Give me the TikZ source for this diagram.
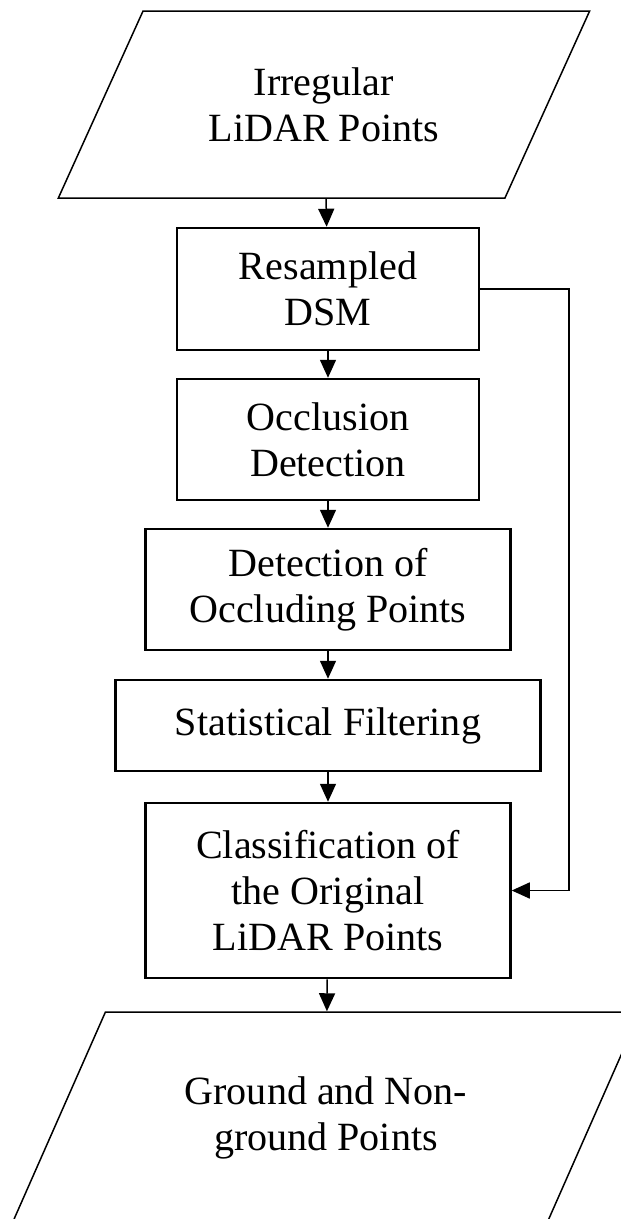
\documentclass[tikz,border=0pt]{standalone}
\usepackage{fontspec}
\setmainfont{Liberation Serif}
\usetikzlibrary{shapes.geometric,arrows.meta}
\begin{document}
\begin{tikzpicture}[>={Triangle[width=0.32cm,length=0.36cm]},line width=0.03cm,
    proc node/.style={rectangle,draw,line width=0.05cm,align=center,inner sep=0pt,font={\fontsize{22.8}{26.2}\selectfont}},
    io node/.style={trapezium,draw,trapezium left angle=54,trapezium right angle=126,trapezium stretches=true,align=center,inner sep=0pt,font={\fontsize{22.8}{26.2}\selectfont}}]
        \useasboundingbox (-6.56, 0) rectangle (5.86, -24.38);
        \node[io node, minimum width=10.64cm, minimum height=3.74cm] at (-0.08, -2.09) (input) {Irregular\\LiDAR Points};
        \node[proc node, minimum width=6.04cm, minimum height=2.44cm] at (0, -5.78) (dsm) {Resampled\\DSM};
        \node[proc node, minimum width=6.04cm, minimum height=2.42cm] at (0, -8.79) (occl) {Occlusion\\Detection};
        \node[proc node, minimum width=7.3cm, minimum height=2.42cm] at (0, -11.79) (occpts) {Detection of\\Occluding Points};
        \node[proc node, minimum width=8.5cm, minimum height=1.82cm] at (0, -14.51) (filter) {Statistical Filtering};
        \node[proc node, minimum width=7.3cm, minimum height=3.5cm] at (0, -17.81) (classify) {Classification of\\the Original\\LiDAR Points};
        \node[io node, minimum width=12.57cm, minimum height=4.24cm] at (-0.04, -22.36) (output) {Ground and Non-\\ground Points};
        \coordinate (bend) at (4.82, -5.78);

        \path[->]
            (input) edge (dsm)
            (dsm) edge (occl)
            (occl) edge (occpts)
            (occpts) edge (filter)
            (filter) edge (classify)
            (classify) edge (output)
            ;
        \draw[->] (dsm.east) -- (bend) |- (classify.east);
    \end{tikzpicture}
\end{document}
